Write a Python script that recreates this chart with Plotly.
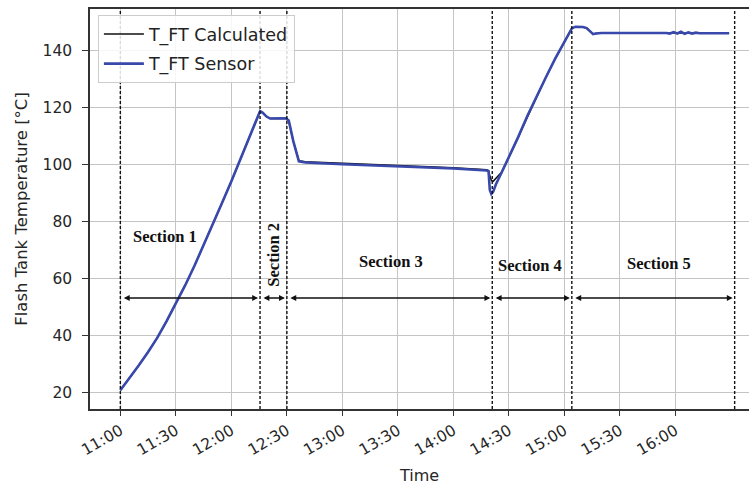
import plotly.graph_objects as go

DAY = "2023-01-01 "

# --- data ---
times = ["11:00:00", "11:05:00", "11:10:00", "11:15:00", "11:20:00", "11:25:00", "11:30:00",
         "11:35:00", "11:40:00", "11:45:00", "11:50:00", "11:55:00", "12:00:00", "12:04:00",
         "12:08:00", "12:12:00", "12:15:30", "12:17:00", "12:19:00", "12:21:00", "12:25:00",
         "12:29:30", "12:31:00", "12:33:30", "12:36:30", "12:40:00", "13:00:00", "13:30:00",
         "14:00:00", "14:18:00", "14:19:00", "14:19:40", "14:20:30", "14:21:30", "14:23:00",
         "14:26:00", "14:30:00", "14:35:00", "14:40:00", "14:45:00", "14:50:00", "14:55:00",
         "15:00:00", "15:04:00", "15:06:00", "15:10:00", "15:12:00", "15:14:00", "15:15:30",
         "15:17:00", "15:20:00", "15:55:00", "15:57:00", "15:59:00", "16:01:00", "16:03:00",
         "16:05:00", "16:07:00", "16:09:00", "16:11:00", "16:13:00", "16:29:00"]

t_sensor = [20.8, 25.0, 29.5, 34.2, 39.2, 45.0, 51.0,
            57.5, 64.3, 71.5, 79.0, 86.5, 94.0, 100.5,
            107.0, 113.0, 118.6, 118.0, 116.7, 116.0, 116.0,
            116.1, 115.3, 108.0, 101.0, 100.6, 100.0, 99.3,
            98.5, 97.8, 97.5, 91.0, 89.6, 90.4, 93.0,
            97.0, 102.5, 109.5, 117.0, 124.0, 130.5, 137.0,
            143.0, 147.6, 148.2, 148.1, 147.7, 146.3, 145.6,
            145.8, 146.0, 146.0, 145.8, 146.3, 145.8, 146.4,
            145.7, 146.2, 145.8, 146.1, 145.9, 145.9]

t_calc = [20.8, 25.0, 29.5, 34.2, 39.2, 45.0, 51.0,
          57.5, 64.3, 71.5, 79.0, 86.5, 94.0, 100.5,
          107.0, 113.0, 118.6, 118.0, 116.7, 116.0, 116.0,
          116.1, 115.3, 108.0, 101.2, 100.9, 100.3, 99.6,
          98.8, 98.1, 97.8, 96.0, 94.3, 94.0, 95.0,
          97.2, 102.5, 109.5, 117.0, 124.0, 130.5, 137.0,
          143.0, 147.6, 148.2, 148.1, 147.7, 146.3, 145.6,
          145.8, 146.0, 146.0, 146.0, 146.0, 146.0, 146.0,
          146.0, 146.0, 146.0, 146.0, 145.9, 145.9]

section_bounds = ["11:00:00", "12:15:30", "12:30:00", "14:21:00", "15:04:00", "16:32:00"]
section_labels = ["Section 1", "Section 2", "Section 3", "Section 4", "Section 5"]
label_times = ["11:24:00", "12:22:40", "13:26:00", "14:41:30", "15:51:00"]
label_values = [74.8, 68.4, 66.0, 64.6, 65.3]
label_angles = [0, -90, 0, 0, 0]
arrow_value = 53.1

xtick_times = ["11:00", "11:30", "12:00", "12:30", "13:00", "13:30",
               "14:00", "14:30", "15:00", "15:30", "16:00"]
ytick_vals = [20, 40, 60, 80, 100, 120, 140]

x_range = ["10:43:36", "16:39:45"]
y_range = [14.2, 154.4]

# --- figure ---
fig = go.Figure()
fig.add_trace(go.Scatter(
    x=[DAY + t for t in times], y=t_calc, mode="lines", name="T_FT Calculated",
    line=dict(color="#111111", width=1.5), legendgroup="a"))
fig.add_trace(go.Scatter(
    x=[DAY + t for t in times], y=t_sensor, mode="lines", name="T_FT Sensor",
    line=dict(color="#3949AB", width=2.6), legendgroup="b"))

shapes = []
for b in section_bounds:
    shapes.append(dict(type="line", xref="x", yref="paper", x0=DAY + b, x1=DAY + b,
                       y0=0, y1=1, line=dict(color="#111111", width=1.4, dash="3px,2px"),
                       layer="above"))

annotations = []
for i in range(len(section_bounds) - 1):
    annotations.append(dict(
        x=DAY + section_bounds[i + 1], y=arrow_value,
        ax=DAY + section_bounds[i], ay=arrow_value,
        xref="x", yref="y", axref="x", ayref="y", text="",
        showarrow=True, arrowhead=2, startarrowhead=2, arrowside="end+start",
        arrowsize=0.9, startarrowsize=0.9, arrowwidth=1.3, arrowcolor="#111111",
        standoff=2, startstandoff=2))
for lab, lt, lv, ang in zip(section_labels, label_times, label_values, label_angles):
    annotations.append(dict(
        x=DAY + lt, y=lv, xref="x", yref="y", text="<b>" + lab + "</b>", showarrow=False,
        textangle=ang, font=dict(family="Liberation Serif", size=16.5, color="#111111")))

fig.update_layout(
    width=749, height=487,
    margin=dict(l=90, r=0, t=9, b=78),
    paper_bgcolor="white", plot_bgcolor="white",
    font=dict(family="DejaVu Sans", size=15, color="#262626"),
    shapes=shapes, annotations=annotations,
    legend=dict(x=0.012, y=0.985, xanchor="left", yanchor="top",
                bgcolor="rgba(255,255,255,0.85)", bordercolor="#cccccc", borderwidth=1,
                font=dict(family="DejaVu Sans", size=17.5, color="#222222"),
                tracegroupgap=4, itemwidth=40),
    showlegend=True,
)
fig.update_xaxes(
    type="date", range=[DAY + x_range[0], DAY + x_range[1]],
    tickvals=[DAY + t for t in xtick_times], ticktext=xtick_times,
    tickangle=-30, ticks="outside", ticklen=5, tickcolor="#333333",
    showgrid=True, gridcolor="#c4c4c4", gridwidth=1.2,
    showline=True, linecolor="#333333", linewidth=1.5, mirror=True,
    title=dict(text="Time", font=dict(size=16), standoff=12),
    tickfont=dict(size=15.5), zeroline=False)
fig.update_yaxes(
    range=y_range, tickvals=ytick_vals, ticks="outside", ticklen=6, tickcolor="#333333",
    ticklabelstandoff=7,
    showgrid=True, gridcolor="#c4c4c4", gridwidth=1.2,
    showline=True, linecolor="#333333", linewidth=1.5,
    title=dict(text="Flash Tank Temperature [°C]", font=dict(size=16.5), standoff=11),
    tickfont=dict(size=15.5), zeroline=False)

fig.write_html("out.html")
